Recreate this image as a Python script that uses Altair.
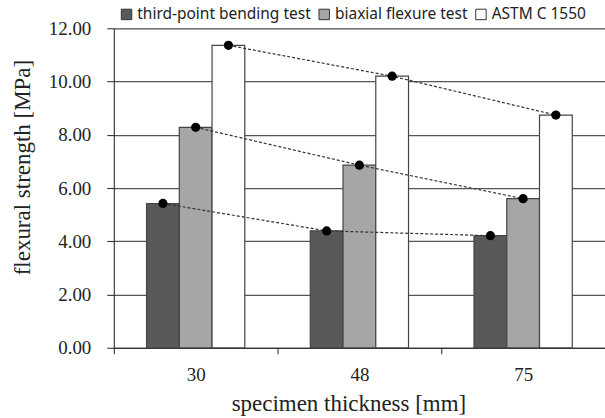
import altair as alt
import pandas as pd

thickness = ["30", "48", "75"]
series = ["third-point bending test", "biaxial flexure test", "ASTM C 1550"]
third_point = [5.42, 4.39, 4.21]
biaxial = [8.28, 6.86, 5.60]
astm = [11.36, 10.20, 8.74]
colors = ["#595959", "#a6a6a6", "#ffffff"]

rows = []
for s, vals in zip(series, [third_point, biaxial, astm]):
    for t, v in zip(thickness, vals):
        rows.append({"thickness": t, "series": s, "value": v})
df = pd.DataFrame(rows)

x = alt.X("thickness:N", sort=thickness, title="specimen thickness [mm]",
          scale=alt.Scale(paddingInner=0, paddingOuter=0),
          axis=alt.Axis(labelAngle=0, tickBand="extent", labelFont="Liberation Serif",
                        labelFontSize=19, labelColor="#222", titleFont="Liberation Serif",
                        titleFontSize=23, titleFontWeight="normal", titleColor="#222",
                        domainColor="#222", tickColor="#222", tickSize=6,
                        labelPadding=12, titlePadding=8, titleX=235, grid=False))
xo = alt.XOffset("series:N", sort=series,
                 scale=alt.Scale(paddingInner=0, paddingOuter=1.0))
y = alt.Y("value:Q", title="flexural strength [MPa]",
          scale=alt.Scale(domain=[0, 12]),
          axis=alt.Axis(values=[0, 2, 4, 6, 8, 10, 12], format=".2f",
                        labelFont="Liberation Serif", labelFontSize=19, labelColor="#222",
                        titleFont="Liberation Serif", titleFontSize=23,
                        titleFontWeight="normal", titleColor="#222",
                        domainColor="#222", tickColor="#222", tickSize=7,
                        gridColor="#555", gridWidth=1.2, labelPadding=16, titlePadding=14,
                        titleY=139))

color = alt.Color("series:N", sort=series,
                  scale=alt.Scale(domain=series, range=colors),
                  legend=alt.Legend(title=None, orient="none", legendX=5, legendY=-22,
                                    direction="horizontal", columns=3,
                                    symbolType="square", symbolSize=110,
                                    symbolStrokeColor="#333", symbolStrokeWidth=1,
                                    labelFont="Noto Sans", labelFontSize=15.5, labelLimit=0,
                                    labelColor="#222", columnPadding=5,
                                    symbolOffset=0, labelOffset=3))

bars = alt.Chart(df).mark_bar(stroke="#444", strokeWidth=1.2).encode(
    x=x, xOffset=xo, y=y, color=color)

lines = alt.Chart(df).mark_line(color="#333", strokeDash=[3, 2], strokeWidth=1.2).encode(
    x=x, xOffset=xo, y=y, detail="series:N")

points = alt.Chart(df).mark_circle(color="black", opacity=1, size=85).encode(
    x=x, xOffset=xo, y=y)

chart = alt.layer(bars, lines, points).properties(
    width=492, height=320,
    autosize=alt.AutoSizeParams(type="none"),
    padding={"left": 114, "top": 28, "right": 0, "bottom": 70},
).configure_view(fill="#e8e8e8", stroke=None).configure(background="white")

chart.save("out.html", embed_options={"renderer": "svg", "actions": False})
